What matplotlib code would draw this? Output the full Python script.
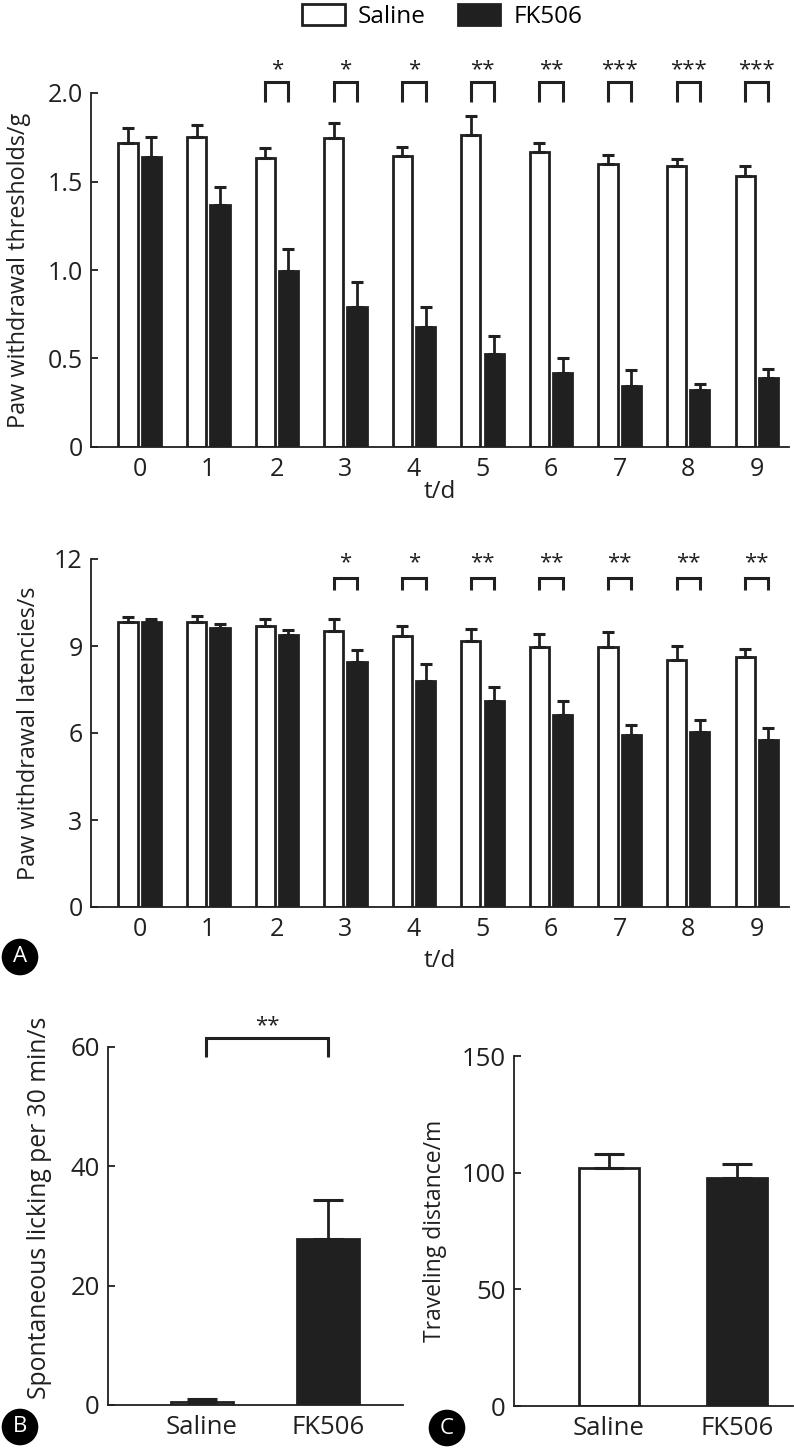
import numpy as np
import matplotlib
matplotlib.use("Agg")
import matplotlib.pyplot as plt

plt.rcParams["font.family"] = ["Open Sans", "DejaVu Sans"]

# Data
days = np.arange(10)
thr_saline = [1.72, 1.75, 1.63, 1.745, 1.645, 1.76, 1.664, 1.598, 1.589, 1.532]
thr_saline_err = [0.08, 0.07, 0.06, 0.085, 0.05, 0.11, 0.056, 0.052, 0.039, 0.053]
thr_fk = [1.636, 1.368, 0.994, 0.79, 0.68, 0.528, 0.419, 0.345, 0.32, 0.392]
thr_fk_err = [0.114, 0.10, 0.126, 0.144, 0.11, 0.098, 0.081, 0.089, 0.035, 0.051]
thr_sig = {2: "*", 3: "*", 4: "*", 5: "**", 6: "**", 7: "***", 8: "***", 9: "***"}

lat_saline = [9.82, 9.83, 9.68, 9.51, 9.33, 9.18, 8.98, 8.97, 8.52, 8.62]
lat_saline_err = [0.18, 0.20, 0.26, 0.41, 0.35, 0.41, 0.43, 0.52, 0.49, 0.28]
lat_fk = [9.82, 9.61, 9.37, 8.46, 7.78, 7.09, 6.61, 5.94, 6.02, 5.77]
lat_fk_err = [0.12, 0.15, 0.19, 0.40, 0.61, 0.50, 0.48, 0.32, 0.43, 0.39]
lat_sig = {3: "*", 4: "*", 5: "**", 6: "**", 7: "**", 8: "**", 9: "**"}

groups = ["Saline", "FK506"]
lick = [0.45, 27.9]
lick_err = [0.55, 6.5]
dist = [102.1, 97.6]
dist_err = [5.9, 6.1]

dark = "#202020"
W, H = 794, 1448
fig = plt.figure(figsize=(W / 100, H / 100), dpi=100)


def style(ax, ymax, ticks, fs=18):
    ax.spines["top"].set_visible(False)
    ax.spines["right"].set_visible(False)
    for s in ("left", "bottom"):
        ax.spines[s].set_linewidth(1.3)
        ax.spines[s].set_color(dark)
    ax.set_ylim(0, ymax)
    ax.set_yticks(ticks)
    ax.tick_params(axis="y", direction="in", length=5, width=1.3, pad=6, labelsize=fs, colors=dark)
    ax.tick_params(axis="x", length=0, pad=7, labelsize=fs, colors=dark)


def bracket(ax, x1, x2, y1, y2, label, ty, fs=16):
    ax.plot([x1, x1, x2, x2], [y1, y2, y2, y1], color=dark, lw=2.2,
            solid_joinstyle="miter", solid_capstyle="butt", clip_on=False)
    ax.text((x1 + x2) / 2, ty, label, ha="center", va="center", fontsize=fs, color=dark)


def time_panel(ax, sal, sal_e, fk, fk_e, sig, ymax, ticks, tick_labels, br, ylabel):
    off, w = 0.17, 0.28
    zeros = np.zeros(len(days))
    bs = ax.bar(days - off, sal, w, color="white", edgecolor=dark, linewidth=2.0, zorder=2)
    bf = ax.bar(days + off, fk, w, color=dark, edgecolor=dark, linewidth=2.0, zorder=2)
    ax.errorbar(days - off, sal, yerr=[zeros, sal_e], fmt="none", ecolor=dark,
                elinewidth=2.0, capsize=4, capthick=2.2, zorder=3)
    ax.errorbar(days + off, fk, yerr=[zeros, fk_e], fmt="none", ecolor=dark,
                elinewidth=2.0, capsize=4, capthick=2.2, zorder=3)
    style(ax, ymax, ticks)
    ax.set_yticklabels(tick_labels)
    ax.set_xlim(-0.71, 9.47)
    ax.set_xticks(days)
    for d, s in sig.items():
        bracket(ax, d - off, d + off, br[0], br[1], s, br[2])
    ax.set_ylabel(ylabel, fontsize=16.8, color=dark)
    ax.set_xlabel("t/d", fontsize=17.5, color=dark)
    return bs, bf


# Panel A top: thresholds
ax1 = fig.add_axes([91 / W, 1 - 447 / H, 698 / W, 354 / H])
bs, bf = time_panel(ax1, thr_saline, thr_saline_err, thr_fk, thr_fk_err, thr_sig,
                    2.0, [0, 0.5, 1.0, 1.5, 2.0], ["0", "0.5", "1.0", "1.5", "2.0"],
                    (1.95, 2.06, 2.13), "Paw withdrawal thresholds/g")
ax1.yaxis.set_label_coords(-0.086, 0.5)
ax1.xaxis.set_label_coords(0.5, -0.093)

# Panel A bottom: latencies
ax2 = fig.add_axes([91 / W, 1 - 907 / H, 698 / W, 348 / H])
time_panel(ax2, lat_saline, lat_saline_err, lat_fk, lat_fk_err, lat_sig,
           12, [0, 3, 6, 9, 12], ["0", "3", "6", "9", "12"],
           (10.94, 11.34, 11.86), "Paw withdrawal latencies/s")
ax2.yaxis.set_label_coords(-0.072, 0.5)
ax2.xaxis.set_label_coords(0.5, -0.122)

# Panel B: spontaneous licking
x2 = np.arange(2)
axb = fig.add_axes([108 / W, 1 - 1405 / H, 295 / W, 358 / H])
axb.bar(x2, lick, 0.49, color=["white", dark], edgecolor=dark, linewidth=2.0, zorder=2)
axb.errorbar(x2, lick, yerr=[np.zeros(2), lick_err], fmt="none", ecolor=dark,
             elinewidth=2.0, capsize=11, capthick=2.2, zorder=3)
style(axb, 60, [0, 20, 40, 60], fs=18.5)
axb.set_xlim(-0.746, 1.595)
axb.set_xticks(x2)
axb.set_xticklabels(groups)
bracket(axb, 0.03, 1.0, 58.3, 61.5, "**", 63.5)
axb.set_ylabel("Spontaneous licking per 30 min/s", fontsize=17.8, color=dark)
axb.yaxis.set_label_coords(-0.19, 0.55)

# Panel C: traveling distance
axc = fig.add_axes([514 / W, 1 - 1406 / H, 279 / W, 350 / H])
axc.bar(x2, dist, 0.47, color=["white", dark], edgecolor=dark, linewidth=2.0, zorder=2)
axc.errorbar(x2, dist, yerr=[np.zeros(2), dist_err], fmt="none", ecolor=dark,
             elinewidth=2.0, capsize=11, capthick=2.2, zorder=3)
style(axc, 150, [0, 50, 100, 150], fs=18.5)
axc.set_xlim(-0.742, 1.44)
axc.set_xticks(x2)
axc.set_xticklabels(groups)
axc.set_ylabel("Traveling distance/m", fontsize=16.5, color=dark)
axc.yaxis.set_label_coords(-0.24, 0.5)

# Legend
fig.legend([bs, bf], ["Saline", "FK506"], ncol=2, loc="upper center",
           bbox_to_anchor=(0.557, 1.012), frameon=False, fontsize=17.5,
           handlelength=1.75, handleheight=0.9, handletextpad=0.55, columnspacing=1.3)

# Panel letters
for lx, ly, lt in [(20, 957, "A"), (20, 1427, "B"), (447, 1428, "C")]:
    fig.text(lx / W, 1 - ly / H, lt, ha="center", va="center", color="white", fontsize=16,
             bbox=dict(boxstyle="circle,pad=0.32", fc="black", ec="black"))

fig.savefig("out.png", dpi=100)
